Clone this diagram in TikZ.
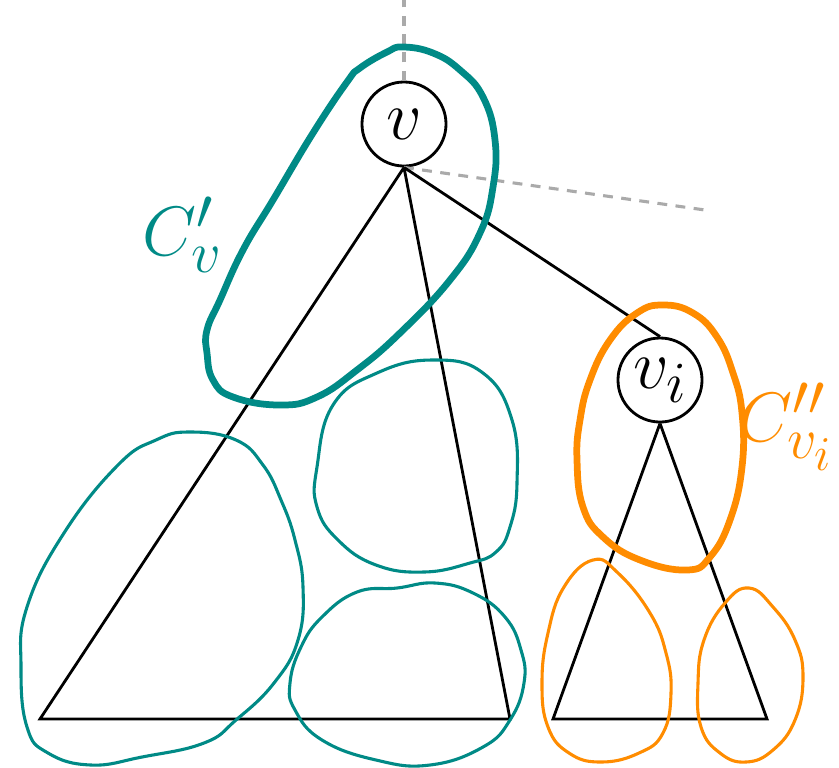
\documentclass[tikz,border=0pt]{standalone}
\usepackage{amsmath,amssymb}
\usepackage{tikz}
\usetikzlibrary{positioning}
\definecolor{clteal}{RGB}{0,138,134}
\definecolor{clorange}{RGB}{255,140,0}
\definecolor{clgray}{RGB}{170,170,170}

\begin{document}
\begin{tikzpicture}[
  x=0.0125cm, y=-0.0125cm,
  vertex/.style={circle, draw, line width=1pt, minimum size=1.05cm, inner sep=0pt, font=\Huge},
  edge/.style={line width=1pt, line join=miter},
  ghost/.style={draw=clgray, line width=1.1pt, dash pattern=on 3.5pt off 3pt},
  thinblob/.style={line width=1.1pt, line join=round},
  thickblob/.style={line width=2.4pt, line join=round},
  tag/.style={font=\Huge}
]
\useasboundingbox (0,0) rectangle (839,767);

\node[vertex] (v) at (404,124) {$v$};
\node[vertex] (vi) at (660,380) {$v_i$};

\coordinate (top) at (404,0);
\coordinate (side) at (705,210);
\coordinate (la) at (40,719);
\coordinate (lb) at (510,719);
\coordinate (ra) at (553,719);
\coordinate (rb) at (767,719);

% parent and sibling hints
\draw[ghost] (v.north) -- (top);
\draw[ghost] (v.south) -- (side);

% subtrees
\draw[edge] (v.south) -- (la) -- (lb) -- (v.south);
\draw[edge] (v.south) -- (vi.north);
\draw[edge] (vi.south) -- (ra) -- (rb) -- (vi.south);

% teal clusters
\draw[clteal, thickblob] plot[smooth cycle, tension=0.75] coordinates {
  (403,47) (433,53) (460,70) (483,97) (495,140) (493,187) (480,233) (450,280)
  (400,333) (357,370) (317,397) (280,405) (233,397) (213,380) (207,353)
  (207,330) (220,300) (243,250) (273,200) (313,133) (347,82) (360,68) (387,52)};
\draw[clteal, thinblob] plot[smooth cycle, tension=0.75] coordinates {
  (190,432) (236,440) (263,465) (281,500) (295,540) (303,587) (298,640)
  (274,683) (236,720) (204,743) (142,757) (91,765) (48,753) (27,727)
  (21,667) (27,607) (64,533) (118,465) (156,440)};
\draw[clteal, thinblob] plot[smooth cycle, tension=0.75] coordinates {
  (333,405) (377,373) (433,360) (483,373) (512,420) (517,483) (510,527)
  (496,552) (470,563) (424,572) (376,565) (338,540) (317,507) (317,467)};
\draw[clteal, thinblob] plot[smooth cycle, tension=0.75] coordinates {
  (357,592) (397,588) (435,583) (473,593) (505,617) (521,650) (524,683)
  (510,720) (483,747) (430,765) (376,760) (322,740) (295,710) (290,683)
  (301,647) (322,617)};

% orange clusters
\draw[clorange, thickblob] plot[smooth cycle, tension=0.75] coordinates {
  (663,305) (693,313) (717,337) (733,373) (742,413) (742,467) (730,520)
  (710,557) (687,570) (640,560) (603,537) (583,507) (577,460) (580,420)
  (590,380) (610,340) (637,313)};
\draw[clorange, thinblob] plot[smooth cycle, tension=0.75] coordinates {
  (593,560) (618,573) (650,613) (666,653) (671,693) (663,733) (639,753)
  (601,762) (569,753) (548,727) (542,683) (548,633) (564,587)};
\draw[clorange, thinblob] plot[smooth cycle, tension=0.75] coordinates {
  (749,588) (773,607) (795,640) (803,677) (795,720) (773,750) (746,762)
  (720,753) (701,727) (698,683) (704,640) (725,603)};

\node[tag, text=clteal] (cv) at (183,235) {$C'_v$};
\node[tag, text=clorange] (cvi) at (786,427) {$C''_{v_i}$};
\end{tikzpicture}
\end{document}
